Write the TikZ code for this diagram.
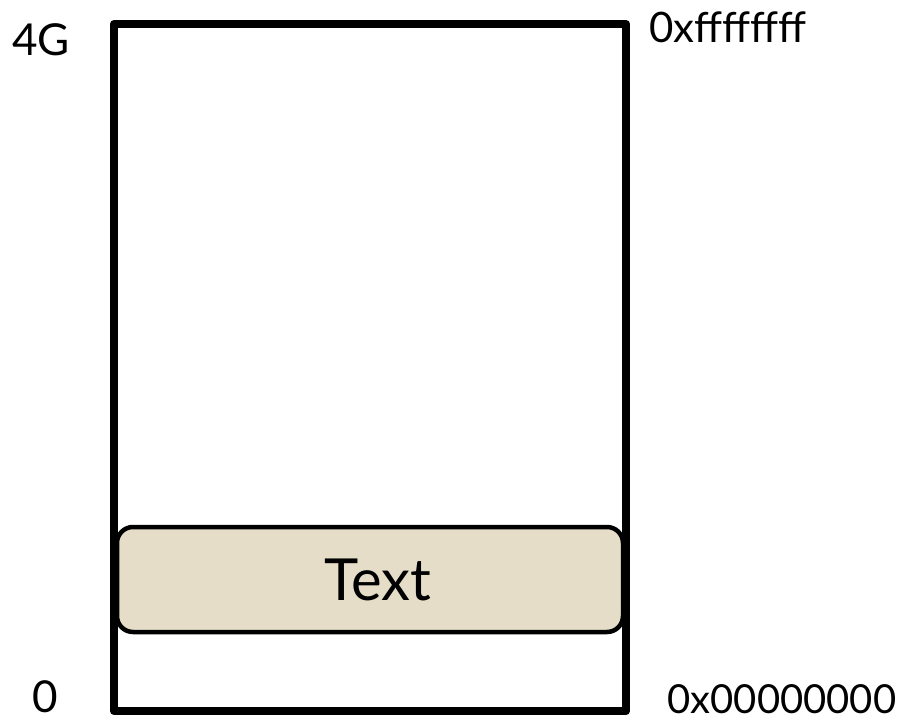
\documentclass[tikz,border=0pt]{standalone}
\usepackage{fontspec}
\setmainfont{Lato}
\definecolor{boxfill}{HTML}{E5DDC8}
\begin{document}
\begin{tikzpicture}[x=1pt,y=-1pt,
  frame/.style={draw=black,line width=8pt,line join=round},
  seg/.style={draw=black,line width=4.5pt,fill=boxfill,rounded corners=16pt},
  lbl/.style={font=\fontsize{44}{48}\selectfont,inner sep=0pt,anchor=center}]
\useasboundingbox (0,0) rectangle (908,723);
\node[frame,minimum width=512pt,minimum height=687pt,inner sep=0pt] (mem) at (370,367.5) {};
\node[seg,minimum width=506pt,minimum height=105pt,inner sep=0pt,font=\fontsize{58}{62}\selectfont] (text) at (370,579.5) {\hspace*{16pt}Text};
\node[lbl] (top) at (41,40) {4G};
\node[lbl] (bot) at (45,697) {0};
\node[lbl,font=\fontsize{42}{46}\selectfont] (hi) at (728,27) {0xffffffff};
\node[lbl,font=\fontsize{40}{44}\selectfont] (lo) at (782,699) {0x00000000};
\end{tikzpicture}
\end{document}
